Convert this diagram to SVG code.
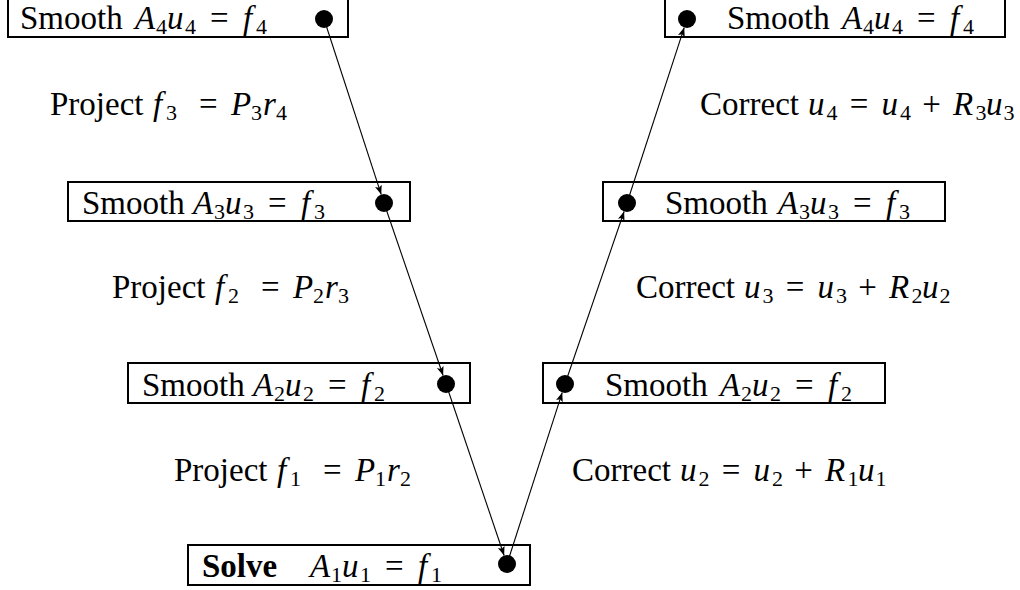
<svg xmlns="http://www.w3.org/2000/svg" width="1020" height="590" viewBox="0 0 1020 590">
<style>
.t{font-family:"Liberation Serif","Times New Roman",serif;font-size:33px;fill:#000}
.i{font-style:italic}
.s{font-size:22px;font-style:normal}
.b{font-weight:bold}
.box{fill:none;stroke:#000;stroke-width:2}
.dot{fill:#000}
.c{stroke:#000;stroke-width:1.1;fill:none;marker-end:url(#ah)}
</style>
<defs>
<marker id="ah" markerUnits="userSpaceOnUse" markerWidth="10" markerHeight="8" refX="9" refY="3.5" orient="auto">
<path d="M0,0 L9,3.5 L0,7 L2,3.5 z" fill="#000"/>
</marker>
</defs>
<rect width="1020" height="590" fill="#fff"/>

<g id="smooth4-down">
<rect class="box" x="8" y="-4" width="340" height="41"/>
<circle class="dot" cx="324" cy="19" r="9"/>
<text class="t" y="29"><tspan x="20">Smooth</tspan><tspan class="i" x="135">A</tspan><tspan class="s" x="156" dy="5">4</tspan><tspan class="i" x="167" dy="-5">u</tspan><tspan class="s" x="185" dy="5">4</tspan><tspan x="210" dy="-5">=</tspan><tspan class="i" x="243">f</tspan><tspan class="s" x="256" dy="5">4</tspan></text>
</g>

<g id="smooth3-down">
<rect class="box" x="68" y="182" width="342" height="39"/>
<circle class="dot" cx="384" cy="203" r="9"/>
<text class="t" y="214"><tspan x="82">Smooth</tspan><tspan class="i" x="193">A</tspan><tspan class="s" x="214" dy="5">3</tspan><tspan class="i" x="225" dy="-5">u</tspan><tspan class="s" x="243" dy="5">3</tspan><tspan x="268" dy="-5">=</tspan><tspan class="i" x="301">f</tspan><tspan class="s" x="314" dy="5">3</tspan></text>
</g>

<g id="smooth2-down">
<rect class="box" x="128" y="363" width="342" height="40"/>
<circle class="dot" cx="446" cy="384" r="9"/>
<text class="t" y="396"><tspan x="142">Smooth</tspan><tspan class="i" x="253">A</tspan><tspan class="s" x="274" dy="5">2</tspan><tspan class="i" x="285" dy="-5">u</tspan><tspan class="s" x="303" dy="5">2</tspan><tspan x="328" dy="-5">=</tspan><tspan class="i" x="361">f</tspan><tspan class="s" x="374" dy="5">2</tspan></text>
</g>

<g id="solve1">
<rect class="box" x="188" y="545" width="342" height="40"/>
<circle class="dot" cx="507" cy="564" r="9"/>
<text class="t" y="577"><tspan class="b" x="202">Solve</tspan><tspan class="i" x="310">A</tspan><tspan class="s" x="331" dy="5">1</tspan><tspan class="i" x="342" dy="-5">u</tspan><tspan class="s" x="360" dy="5">1</tspan><tspan x="385" dy="-5">=</tspan><tspan class="i" x="418">f</tspan><tspan class="s" x="431" dy="5">1</tspan></text>
</g>

<g id="smooth2-up">
<rect class="box" x="543" y="363" width="342" height="40"/>
<circle class="dot" cx="565" cy="384" r="9"/>
<text class="t" y="396"><tspan x="605">Smooth</tspan><tspan class="i" x="720">A</tspan><tspan class="s" x="741" dy="5">2</tspan><tspan class="i" x="752" dy="-5">u</tspan><tspan class="s" x="770" dy="5">2</tspan><tspan x="795" dy="-5">=</tspan><tspan class="i" x="828">f</tspan><tspan class="s" x="841" dy="5">2</tspan></text>
</g>

<g id="smooth3-up">
<rect class="box" x="603" y="182" width="342" height="39"/>
<circle class="dot" cx="627" cy="203" r="9"/>
<text class="t" y="214"><tspan x="665">Smooth</tspan><tspan class="i" x="778">A</tspan><tspan class="s" x="799" dy="5">3</tspan><tspan class="i" x="810" dy="-5">u</tspan><tspan class="s" x="828" dy="5">3</tspan><tspan x="853" dy="-5">=</tspan><tspan class="i" x="886">f</tspan><tspan class="s" x="899" dy="5">3</tspan></text>
</g>

<g id="smooth4-up">
<rect class="box" x="665" y="-4" width="340" height="41"/>
<circle class="dot" cx="687" cy="19" r="9"/>
<text class="t" y="29"><tspan x="727">Smooth</tspan><tspan class="i" x="842">A</tspan><tspan class="s" x="863" dy="5">4</tspan><tspan class="i" x="874" dy="-5">u</tspan><tspan class="s" x="892" dy="5">4</tspan><tspan x="917" dy="-5">=</tspan><tspan class="i" x="950">f</tspan><tspan class="s" x="963" dy="5">4</tspan></text>
</g>

<g id="labels">
<text class="t" y="115"><tspan x="50">Project</tspan><tspan class="i" x="153">f</tspan><tspan class="s" x="166" dy="5">3</tspan><tspan x="199" dy="-5">=</tspan><tspan class="i" x="231">P</tspan><tspan class="s" x="251" dy="5">3</tspan><tspan class="i" x="263" dy="-5">r</tspan><tspan class="s" x="276" dy="5">4</tspan></text>
<text class="t" y="298"><tspan x="112">Project</tspan><tspan class="i" x="215">f</tspan><tspan class="s" x="228" dy="5">2</tspan><tspan x="261" dy="-5">=</tspan><tspan class="i" x="293">P</tspan><tspan class="s" x="313" dy="5">2</tspan><tspan class="i" x="325" dy="-5">r</tspan><tspan class="s" x="338" dy="5">3</tspan></text>
<text class="t" y="481"><tspan x="174">Project</tspan><tspan class="i" x="277">f</tspan><tspan class="s" x="290" dy="5">1</tspan><tspan x="323" dy="-5">=</tspan><tspan class="i" x="355">P</tspan><tspan class="s" x="375" dy="5">1</tspan><tspan class="i" x="387" dy="-5">r</tspan><tspan class="s" x="400" dy="5">2</tspan></text>

<text class="t" y="115"><tspan x="700">Correct</tspan><tspan class="i" x="808">u</tspan><tspan class="s" x="826.5" dy="5">4</tspan><tspan x="849.7" dy="-5">=</tspan><tspan class="i" x="881.5">u</tspan><tspan class="s" x="900" dy="5">4</tspan><tspan x="922.2" dy="-5">+</tspan><tspan class="i" x="953">R</tspan><tspan class="s" x="975.5" dy="5">3</tspan><tspan class="i" x="986" dy="-5">u</tspan><tspan class="s" x="1003.5" dy="5">3</tspan></text>
<text class="t" y="298"><tspan x="636">Correct</tspan><tspan class="i" x="744">u</tspan><tspan class="s" x="762.5" dy="5">3</tspan><tspan x="785.7" dy="-5">=</tspan><tspan class="i" x="817.5">u</tspan><tspan class="s" x="836" dy="5">3</tspan><tspan x="858.2" dy="-5">+</tspan><tspan class="i" x="889">R</tspan><tspan class="s" x="911.5" dy="5">2</tspan><tspan class="i" x="922" dy="-5">u</tspan><tspan class="s" x="939.5" dy="5">2</tspan></text>
<text class="t" y="481"><tspan x="572">Correct</tspan><tspan class="i" x="680">u</tspan><tspan class="s" x="698.5" dy="5">2</tspan><tspan x="721.7" dy="-5">=</tspan><tspan class="i" x="753.5">u</tspan><tspan class="s" x="772" dy="5">2</tspan><tspan x="794.2" dy="-5">+</tspan><tspan class="i" x="825">R</tspan><tspan class="s" x="847.5" dy="5">1</tspan><tspan class="i" x="858" dy="-5">u</tspan><tspan class="s" x="875.5" dy="5">1</tspan></text>
</g>

<g id="connectors">
<line class="c" x1="324" y1="19" x2="381.2" y2="194.4"/>
<line class="c" x1="384" y1="203" x2="443.1" y2="375.5"/>
<line class="c" x1="446" y1="384" x2="504.1" y2="555.5"/>
<line class="c" x1="507" y1="564" x2="562.2" y2="392.6"/>
<line class="c" x1="565" y1="384" x2="624.1" y2="211.5"/>
<line class="c" x1="627" y1="203" x2="684.2" y2="27.6"/>
</g>
</svg>
